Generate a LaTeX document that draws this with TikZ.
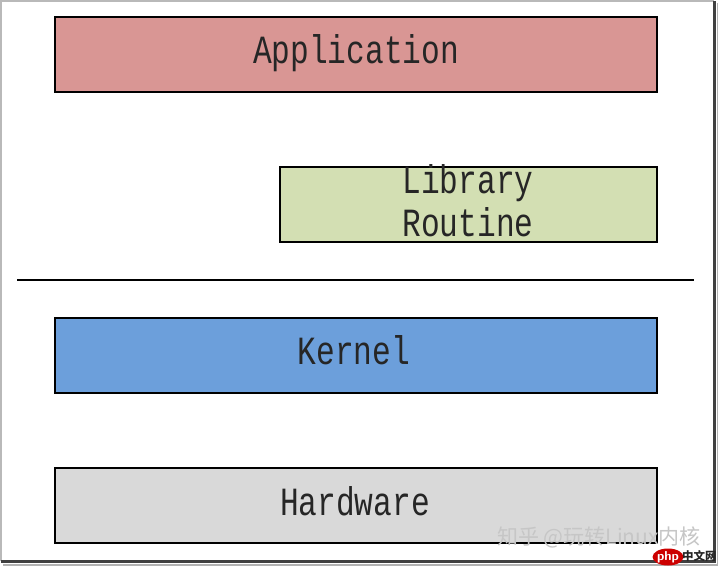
\documentclass[tikz,border=0pt]{standalone}
\usepackage{fontspec}
\setmonofont[FakeStretch=0.78]{Liberation Mono}
\newfontfamily\cjkfont{Noto Sans CJK SC}
\usetikzlibrary{shapes.geometric}
\definecolor{appred}{HTML}{D99694}
\definecolor{libgreen}{HTML}{D3DFB3}
\definecolor{kernblue}{HTML}{6C9FDB}
\definecolor{hwgray}{HTML}{D9D9D9}
\tikzset{
  layer/.style={draw=black, line width=1.6pt, inner sep=0pt},
  lbl/.style={font=\ttfamily\fontsize{40}{42}\selectfont, text=black!85},
}
\begin{document}
\begin{tikzpicture}[x=1pt,y=-1pt]
\useasboundingbox (0,0) rectangle (720,568);
\fill[white] (0,0) rectangle (720,568);
% outer frame
\draw[gray!55, line width=1.2pt] (714,1) -- (1,1) -- (1,561);
\draw[black!75, line width=2.5pt] (1,561.5) -- (714.5,561.5) -- (714.5,1);
\draw[gray!60, line width=1.5pt] (717.5,3) -- (717.5,565) -- (3,565);
% layers
\draw[layer, fill=appred] (55,17) rectangle (657,92);
\node[lbl, anchor=base] (app) at (356,63) {Application};
\draw[layer, fill=libgreen] (280,167) rectangle (657,242);
\node[lbl, anchor=base] (lib1) at (468,193) {Library};
\node[lbl, anchor=base] (lib2) at (468,236) {Routine};
\coordinate (divl) at (17,280);
\coordinate (divr) at (694,280);
\draw[black, line width=2pt] (divl) -- (divr);
\draw[layer, fill=kernblue] (55,318) rectangle (657,393);
\node[lbl, anchor=base] (kern) at (354,364) {Kernel};
\draw[layer, fill=hwgray] (55,468) rectangle (657,543);
\node[lbl, anchor=base] (hw) at (355,515) {Hardware};
% watermarks
\node[anchor=base west, inner sep=0pt, font=\cjkfont\fontsize{21}{22}\selectfont, text=gray!45] (wm) at (497,544) {知乎 @玩转Linux内核};
\node[ellipse, fill=red!80!black, inner sep=0pt, minimum width=27pt, minimum height=17pt, font=\sffamily\bfseries\fontsize{13}{13}\selectfont, text=white] (php) at (668,557) {php};
\node[anchor=west, inner sep=0pt, font=\cjkfont\bfseries\fontsize{11.5}{12}\selectfont, text=black!85] (cn) at (682,556) {中文网};
\end{tikzpicture}
\end{document}
